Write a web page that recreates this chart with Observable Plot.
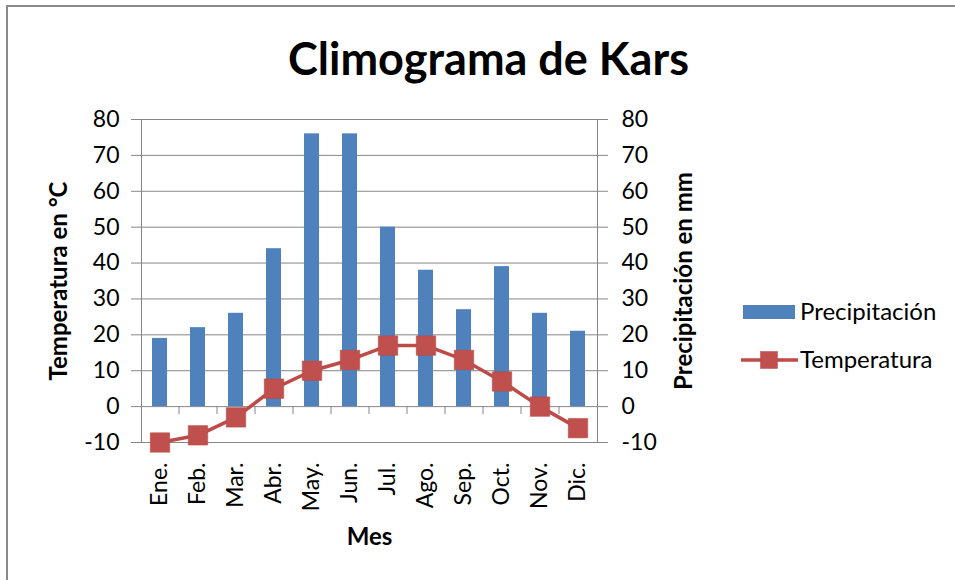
<!DOCTYPE html>
<html>
<head>
<meta charset="utf-8">
<script src="https://cdn.jsdelivr.net/npm/d3@7"></script>
<script src="https://cdn.jsdelivr.net/npm/@observablehq/plot@0.6"></script>
<style>
  body { margin: 0; background: #fff; font-family: Lato, "Open Sans", sans-serif; }
  #wrap { position: relative; width: 955px; height: 580px; overflow: hidden; background: #fff; }
  #border { position: absolute; left: 6px; top: 5px; width: 1200px; height: 1200px; border-left: 2px solid #8a8a8a; border-top: 2px solid #8a8a8a; }
  #chart { position: absolute; left: 0; top: 0; }
  #title { position: absolute; left: 0; width: 977px; top: 31px; text-align: center; font: bold 45px Lato, sans-serif; color: #000; line-height: 54px; }
  .lg { position: absolute; font: 24px Lato, sans-serif; color: #000; line-height: 28px; white-space: nowrap; }
</style>
</head>
<body>
<div id="wrap">
  <div id="border"></div>
  <div id="chart"></div>
  <div id="title">Climograma de Kars</div>
  <div id="legend"></div>
</div>
<script>
const months = ["Ene.", "Feb.", "Mar.", "Abr.", "May.", "Jun.", "Jul.", "Ago.", "Sep.", "Oct.", "Nov.", "Dic."];
const precipitacion = [19, 22, 26, 44, 76, 76, 50, 38, 27, 39, 26, 21];
const temperatura = [-10, -8, -3, 5, 10, 13, 17, 17, 13, 7, 0, -6];
const yTicks = [-10, 0, 10, 20, 30, 40, 50, 60, 70, 80];
const seriesNames = ["Precipitación", "Temperatura"];
const colors = { bar: "#4F81BD", line: "#BE4B48", marker: "#C0504D", axis: "#868686" };

const data = months.map((m, i) => ({ month: m, precip: precipitacion[i], temp: temperatura[i] }));

const chart = Plot.plot({
  width: 955,
  height: 580,
  marginLeft: 141,
  marginRight: 358,
  marginTop: 119,
  marginBottom: 138,
  style: { fontFamily: "Lato, sans-serif", fontSize: "22px", color: "#000", background: "transparent", overflow: "visible" },
  x: { domain: months, paddingInner: 0.6, paddingOuter: 0.3 },
  y: { domain: [-10, 80] },
  marks: [
    Plot.gridY(yTicks, { stroke: colors.axis, strokeOpacity: 1 }),
    Plot.frame({ stroke: colors.axis }),
    Plot.axisY(yTicks, { anchor: "left", tickSize: 10, tickPadding: 12, stroke: colors.axis, fill: "#000", fontSize: 23, label: null, tickFormat: d => String(d) }),
    Plot.axisY(yTicks, { anchor: "right", tickSize: 10, tickPadding: 14, stroke: colors.axis, fill: "#000", fontSize: 23, label: null, tickFormat: d => String(d) }),
    Plot.axisX({ tickRotate: -90, tickSize: 0, tickPadding: 20, fill: "#000", fontSize: 23, label: null }),
    Plot.barY(data, { x: "month", y: "precip", fill: colors.bar }),
    Plot.ruleX(months.slice(1), { x: d => d, y1: 0, y2: -2.2, dx: -19, stroke: colors.axis }),
    Plot.line(data, { x: "month", y: "temp", stroke: colors.line, strokeWidth: 3.5 }),
    Plot.dot(data, { x: "month", y: "temp", symbol: "square", r: 11, fill: colors.marker, stroke: "#b94a47", strokeWidth: 0.5 }),
    Plot.text(["Temperatura en °C"], { text: d => d, frameAnchor: "left", dx: -82, rotate: -90, textAnchor: "middle", lineAnchor: "middle", fontWeight: "bold", fontSize: 24 }),
    Plot.text(["Precipitación en mm"], { text: d => d, frameAnchor: "right", dx: 87, rotate: -90, textAnchor: "middle", lineAnchor: "middle", fontWeight: "bold", fontSize: 24 }),
    Plot.text(["Mes"], { text: d => d, frameAnchor: "bottom", dy: 95, textAnchor: "middle", lineAnchor: "middle", fontWeight: "bold", fontSize: 24 })
  ]
});
document.getElementById("chart").appendChild(chart);

// Legend
const legend = document.getElementById("legend");
legend.innerHTML = `
  <div style="position:absolute;left:743px;top:305px;width:52px;height:14px;background:${colors.bar}"></div>
  <div class="lg" style="left:800px;top:297px">${seriesNames[0]}</div>
  <svg style="position:absolute;left:741px;top:351px" width="57" height="18">
    <line x1="0" x2="57" y1="9" y2="9" stroke="${colors.line}" stroke-width="3.5"></line>
    <rect x="19.5" y="0.5" width="17" height="17" fill="${colors.marker}" stroke="#b94a47" stroke-width="0.5"></rect>
  </svg>
  <div class="lg" style="left:800px;top:345px">${seriesNames[1]}</div>
`;
</script>
</body>
</html>
